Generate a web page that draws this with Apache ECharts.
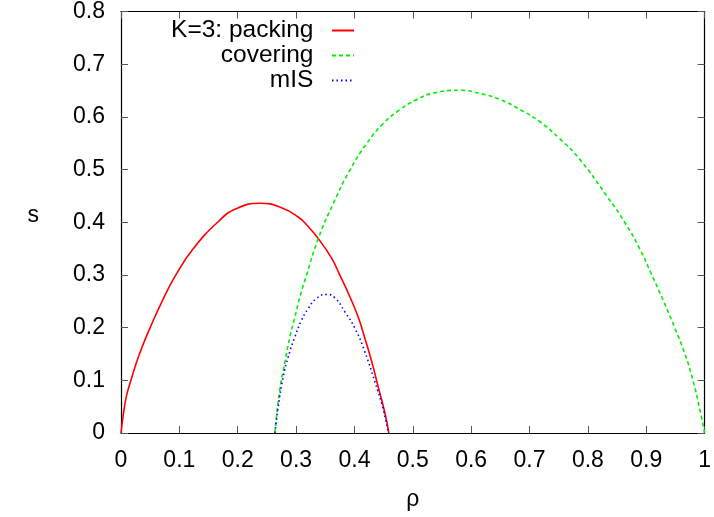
<!DOCTYPE html>
<html>
<head>
<meta charset="utf-8">
<script src="https://cdn.jsdelivr.net/npm/echarts@6/dist/echarts.min.js"></script>
<style>
html,body{margin:0;padding:0;background:#fff;}
#chart{width:714px;height:517px;}
</style>
</head>
<body>
<div id="chart"></div>
<script>
const seriesNames = ['K=3: packing', 'covering', 'mIS'];

const packingX = [0, 0.0046, 0.0097, 0.017, 0.031, 0.05, 0.07, 0.094, 0.124, 0.1655, 0.197, 0.24, 0.275, 0.3036, 0.32, 0.338, 0.3608, 0.374, 0.392, 0.4064, 0.4178, 0.4292, 0.4406, 0.452, 0.4589];
const packingY = [0, 0.04, 0.072, 0.1, 0.148, 0.2, 0.249, 0.3, 0.35, 0.4, 0.4255, 0.436, 0.4275, 0.41, 0.393, 0.369, 0.332, 0.302, 0.259, 0.22, 0.18, 0.137, 0.088, 0.039, 0];

const coveringX = [0.2637, 0.272, 0.2808, 0.2894, 0.298, 0.3066, 0.318, 0.338, 0.3636, 0.392, 0.4207, 0.449, 0.4777, 0.506, 0.535, 0.5805, 0.6147, 0.649, 0.6832, 0.7175, 0.7517, 0.786, 0.8317, 0.863, 0.8887, 0.9087, 0.929, 0.9486, 0.966, 0.98, 0.992, 1];
const coveringY = [0, 0.0815, 0.134, 0.1826, 0.2205, 0.2584, 0.3, 0.369, 0.4354, 0.4986, 0.549, 0.587, 0.6136, 0.6325, 0.645, 0.6505, 0.6445, 0.6332, 0.6142, 0.5908, 0.5586, 0.5194, 0.451, 0.4, 0.35, 0.302, 0.252, 0.2, 0.151, 0.1, 0.0436, 0];

const misX = [0.2637, 0.2694, 0.278, 0.2866, 0.298, 0.3094, 0.3208, 0.335, 0.3522, 0.3664, 0.3836, 0.401, 0.4178, 0.435, 0.4492, 0.458];
const misY = [0, 0.05, 0.1068, 0.1447, 0.1826, 0.2142, 0.2363, 0.2553, 0.263, 0.2566, 0.23, 0.1985, 0.154, 0.0973, 0.0455, 0];

const xTicks = [0, 0.1, 0.2, 0.3, 0.4, 0.5, 0.6, 0.7, 0.8, 0.9, 1];
const yTicks = [0, 0.1, 0.2, 0.3, 0.4, 0.5, 0.6, 0.7, 0.8];

function pairs(xs, ys) { return xs.map((x, i) => [x, ys[i]]); }

const FONT = 'Liberation Sans, Arial, Helvetica, sans-serif';
const FS = 23;

const chart = echarts.init(document.getElementById('chart'), null, {renderer: 'canvas'});

const tickStyle = {show: true, inside: true, length: 7, lineStyle: {color: '#555', width: 1}};
const frameLine = {show: true, onZero: false, lineStyle: {color: '#000', width: 1.2}};

chart.setOption({
  animation: false,
  backgroundColor: '#fff',
  grid: {left: 121, right: 9, top: 11, bottom: 84, containLabel: false},
  legend: {
    orient: 'vertical',
    align: 'right',
    right: 354,
    top: 13,
    itemWidth: 22,
    itemHeight: 20,
    itemGap: 0,
    data: seriesNames,
    formatter: n => n + '  ',
    itemStyle: {opacity: 0},
    textStyle: {fontFamily: FONT, fontSize: 24.5, color: '#000', lineHeight: 20}
  },
  xAxis: [{
    type: 'value', min: xTicks[0], max: xTicks[xTicks.length - 1], interval: 0.1,
    name: 'ρ', nameLocation: 'middle', nameGap: 55,
    nameTextStyle: {fontFamily: FONT, fontSize: FS, color: '#000'},
    axisLine: frameLine, axisTick: tickStyle,
    axisLabel: {fontFamily: FONT, fontSize: FS, color: '#000', margin: 16},
    splitLine: {show: false}
  }, {
    type: 'value', position: 'top', min: xTicks[0], max: xTicks[xTicks.length - 1], interval: 0.1,
    axisLine: frameLine, axisTick: tickStyle, axisLabel: {show: false}, splitLine: {show: false}
  }],
  yAxis: [{
    type: 'value', min: yTicks[0], max: yTicks[yTicks.length - 1], interval: 0.1,
    name: 's', nameLocation: 'middle', nameGap: 82, nameRotate: 0,
    nameTextStyle: {fontFamily: FONT, fontSize: FS, color: '#000', lineHeight: 14, verticalAlign: 'bottom'},
    axisLine: frameLine, axisTick: tickStyle,
    axisLabel: {fontFamily: FONT, fontSize: FS, color: '#000', margin: 16},
    splitLine: {show: false}
  }, {
    type: 'value', position: 'right', min: yTicks[0], max: yTicks[yTicks.length - 1], interval: 0.1,
    axisLine: frameLine, axisTick: tickStyle, axisLabel: {show: false}, splitLine: {show: false}
  }],
  series: [{
    name: seriesNames[0], type: 'line', data: pairs(packingX, packingY),
    showSymbol: false, symbol: 'none', smooth: 0.5,
    lineStyle: {color: '#ff0000', width: 1.6, type: 'solid'},
    itemStyle: {color: '#ff0000'}
  }, {
    name: seriesNames[1], type: 'line', data: pairs(coveringX, coveringY),
    showSymbol: false, symbol: 'none', smooth: 0.5,
    lineStyle: {color: '#00ee00', width: 1.6, type: [4, 3]},
    itemStyle: {color: '#00ee00'}
  }, {
    name: seriesNames[2], type: 'line', data: pairs(misX, misY),
    showSymbol: false, symbol: 'none', smooth: 0.5,
    lineStyle: {color: '#0000ff', width: 1.6, type: [1.5, 3]},
    itemStyle: {color: '#0000ff'}
  }]
});
</script>
</body>
</html>
